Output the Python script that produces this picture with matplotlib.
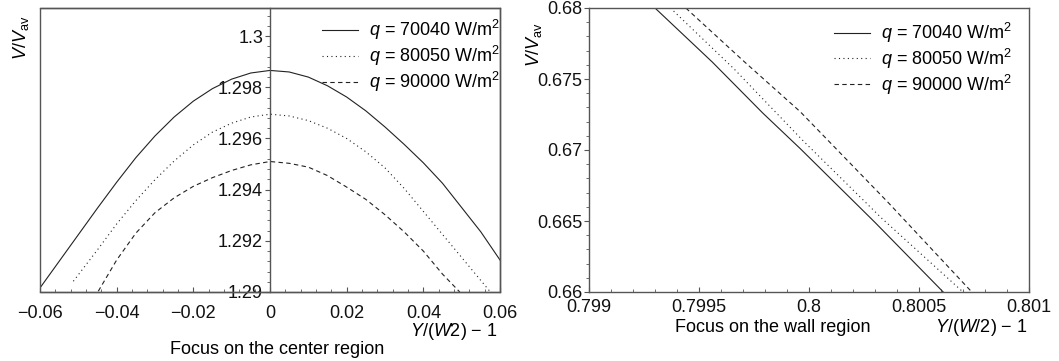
import numpy as np
import matplotlib
matplotlib.use("Agg")
import matplotlib.pyplot as plt
from matplotlib.patches import Rectangle
from matplotlib.ticker import MultipleLocator

plt.rcParams['font.family'] = ['Liberation Sans', 'DejaVu Sans']
plt.rcParams['mathtext.fontset'] = 'custom'
plt.rcParams['mathtext.rm'] = 'Liberation Sans'
plt.rcParams['mathtext.it'] = 'Liberation Sans:italic'
plt.rcParams['font.size'] = 13

labels = [r"$q$ = 70040 W/m$^2$", r"$q$ = 80050 W/m$^2$", r"$q$ = 90000 W/m$^2$"]
styles = ['-', (0, (1, 3)), (0, (4, 3))]

# --- panel izquierdo: region central ---
x70_c = [-0.060, -0.055, -0.050, -0.045, -0.040, -0.035, -0.030, -0.025, -0.020,
         -0.015, -0.010, -0.005, 0.000, 0.005, 0.010, 0.015, 0.020, 0.025, 0.030,
         0.035, 0.040, 0.045, 0.050, 0.055, 0.060]
y70_c = [1.29016, 1.29120, 1.29224, 1.29328, 1.29429, 1.29525, 1.29610, 1.29684,
         1.29746, 1.29795, 1.29832, 1.29856, 1.29866, 1.29860, 1.29840, 1.29806,
         1.29762, 1.29708, 1.29645, 1.29577, 1.29505, 1.29425, 1.29330, 1.29235,
         1.29125]

x80_c = [-0.0513, -0.045, -0.040, -0.035, -0.030, -0.025, -0.020, -0.015, -0.010,
         -0.005, 0.000, 0.005, 0.010, 0.015, 0.020, 0.025, 0.030, 0.035, 0.040,
         0.045, 0.050, 0.055, 0.0575]
y80_c = [1.29042, 1.29165, 1.29266, 1.29357, 1.29439, 1.29512, 1.29575, 1.29625,
         1.29660, 1.29684, 1.29695, 1.29688, 1.29670, 1.29640, 1.29600, 1.29548,
         1.29485, 1.29405, 1.29315, 1.29225, 1.29135, 1.29045, 1.29000]

x90_c = [-0.0448, -0.040, -0.035, -0.030, -0.025, -0.020, -0.015, -0.010, -0.005,
         0.000, 0.005, 0.010, 0.015, 0.020, 0.025, 0.030, 0.035, 0.040, 0.045,
         0.0495]
y90_c = [1.29003, 1.29125, 1.29230, 1.29310, 1.29368, 1.29413, 1.29447, 1.29475,
         1.29497, 1.29510, 1.29503, 1.29488, 1.29455, 1.29410, 1.29362, 1.29302,
         1.29235, 1.29160, 1.29070, 1.29000]

xt_c = [-0.06, -0.04, -0.02, 0.0, 0.02, 0.04, 0.06]
xt_c_lab = ['\u22120.06', '\u22120.04', '\u22120.02', '0', '0.02', '0.04', '0.06']
yt_c = [1.290, 1.292, 1.294, 1.296, 1.298, 1.300]
yt_c_lab = ['1.29', '1.292', '1.294', '1.296', '1.298', '1.3']

# --- panel derecho: region de pared ---
x70_w = [0.79930, 0.79956, 0.79979, 0.79996, 0.80030, 0.80061]
y70_w = [0.6800, 0.6762, 0.6726, 0.6701, 0.6649, 0.6600]
x80_w = [0.79937, 0.79966, 0.79997, 0.80033, 0.80070]
y80_w = [0.6800, 0.6757, 0.6707, 0.6652, 0.6600]
x90_w = [0.79944, 0.79970, 0.79996, 0.80036, 0.80074]
y90_w = [0.6800, 0.6763, 0.6727, 0.6663, 0.6600]

xt_w = [0.799, 0.7995, 0.800, 0.8005, 0.801]
xt_w_lab = ['0.799', '0.7995', '0.8', '0.8005', '0.801']
yt_w = [0.660, 0.665, 0.670, 0.675, 0.680]
yt_w_lab = ['0.66', '0.665', '0.67', '0.675', '0.68']

W, H = 1059, 361
fig = plt.figure(figsize=(W / 100, H / 100), dpi=100)
axL = fig.add_axes([40 / W, (H - 292) / H, 460 / W, 284 / H])
axR = fig.add_axes([589 / W, (H - 292) / H, 440 / W, 284 / H])

frame_c = '#555555'
line_c = '#222222'

for xs, ys, st, lab in zip([x70_c, x80_c, x90_c], [y70_c, y80_c, y90_c], styles, labels):
    axL.plot(xs, ys, linestyle=st, color=line_c, lw=0.8, label=lab)
for xs, ys, st, lab in zip([x70_w, x80_w, x90_w], [y70_w, y80_w, y90_w], styles, labels):
    axR.plot(xs, ys, linestyle=st, color=line_c, lw=0.8, label=lab)

axL.set_xlim(-0.06, 0.06)
axL.set_ylim(1.29, 1.3011)
axR.set_xlim(0.799, 0.801)
axR.set_ylim(0.66, 0.68)

axL.set_xticks(xt_c, xt_c_lab)
axL.set_yticks(yt_c, yt_c_lab)
axL.xaxis.set_minor_locator(MultipleLocator(0.004))
axL.yaxis.set_minor_locator(MultipleLocator(0.0004))
axR.set_xticks(xt_w, xt_w_lab)
axR.set_yticks(yt_w, yt_w_lab)
axR.xaxis.set_minor_locator(MultipleLocator(0.0001))
axR.yaxis.set_minor_locator(MultipleLocator(0.001))

# eje y central en el panel izquierdo
axL.spines['left'].set_position(('data', 0))
axL.add_patch(Rectangle((0, 0), 1, 1, transform=axL.transAxes, fill=False,
                        lw=1.0, edgecolor=frame_c, clip_on=False, zorder=5))

for ax, xpad in ((axL, 9.5), (axR, 5)):
    for sp in ax.spines.values():
        sp.set_color(frame_c)
        sp.set_linewidth(1.0)
    ax.tick_params(axis='x', which='both', direction='in', colors=frame_c,
                   labelcolor='#111111', pad=xpad)
    ax.tick_params(axis='x', which='major', length=3.5)
    ax.tick_params(axis='x', which='minor', length=2.5)
    ax.tick_params(axis='y', which='both', direction='out', colors=frame_c,
                   labelcolor='#111111', pad=1.5)
    ax.tick_params(axis='y', which='major', length=3.5)
    ax.tick_params(axis='y', which='minor', length=2.0)
    ax.tick_params(labelsize=13)

axL.legend(loc='upper right', bbox_to_anchor=(1.0, 0.965), frameon=False,
           borderaxespad=0, borderpad=0, handlelength=2.0, handletextpad=0.6,
           labelspacing=0.1, fontsize=13)
axR.legend(loc='upper right', bbox_to_anchor=(0.962, 0.955), frameon=False,
           borderaxespad=0, borderpad=0, handlelength=2.0, handletextpad=0.6,
           labelspacing=0.1, fontsize=13)

fig.text(21 / W, 1 - 38 / H, r"$V/V_{\mathrm{av}}$", rotation=90,
         ha='center', va='center', fontsize=13)
fig.text(534 / W, 1 - 45 / H, r"$V/V_{\mathrm{av}}$", rotation=90,
         ha='center', va='center', fontsize=13)

fig.text(498 / W, 1 - 331 / H, r"$Y$/($W$2) $-$ 1", ha='right', va='center', fontsize=13)
fig.text(277 / W, 1 - 350 / H, "Focus on the center region", ha='center', va='center', fontsize=13)
fig.text(1028 / W, 1 - 327 / H, r"$Y$/($W$/2) $-$ 1", ha='right', va='center', fontsize=13)
fig.text(773 / W, 1 - 327 / H, "Focus on the wall region", ha='center', va='center', fontsize=13)

fig.savefig("out.png", dpi=100)
